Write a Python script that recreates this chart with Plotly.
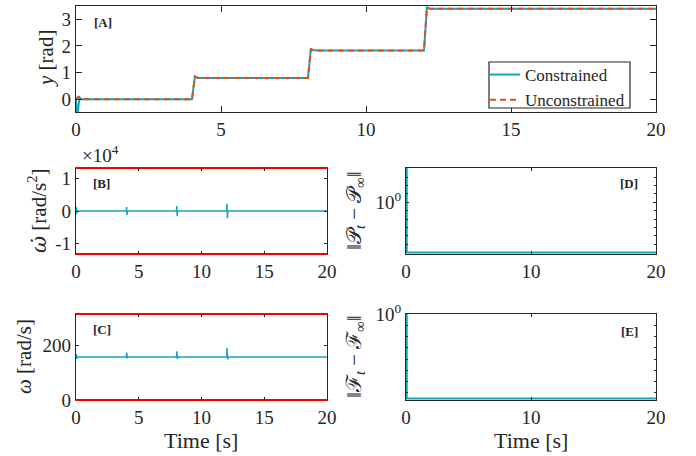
import plotly.graph_objects as go

# ---------------- data ----------------
# Panel A: output angle y [rad]
t_con = [0, 0.04, 0.08, 0.12, 0.2, 4.0, 4.1, 4.15, 4.25, 8.0, 8.1, 8.15, 8.25, 12.0, 12.1, 12.15, 12.25, 20]
y_con = [0, -0.7, -0.3, 0.05, 0.0, 0.0, 0.86, 0.82, 0.8, 0.8, 1.9, 1.85, 1.83, 1.83, 3.45, 3.42, 3.4, 3.4]
t_unc = [0, 0.08, 0.2, 4.0, 4.1, 4.2, 8.0, 8.1, 8.2, 12.0, 12.1, 12.2, 20]
y_unc = [0, 0.1, 0.0, 0.0, 0.84, 0.8, 0.8, 1.88, 1.83, 1.83, 3.44, 3.4, 3.4]

# Panel B: angular acceleration [rad/s^2]
t_wd = [0, 0.02, 0.04, 0.06, 0.1, 4.0, 4.03, 4.06, 4.1, 8.0, 8.03, 8.06, 8.1, 12.0, 12.03, 12.06, 12.1, 20]
wd = [0, 1200, -1000, 300, 0, 0, 1200, -1200, 0, 0, 1500, -1500, 0, 0, 2200, -2200, 0, 0]
wd_bounds = [-13200, 13200]

# Panel C: angular velocity [rad/s]
t_w = [0, 0.03, 0.06, 0.1, 4.0, 4.04, 4.08, 4.12, 8.0, 8.04, 8.08, 8.12, 12.0, 12.04, 12.08, 12.12, 20]
w = [157, 168, 150, 157, 157, 173, 152, 157, 157, 178, 150, 157, 157, 190, 148, 157, 157]
w_bounds = [0, 314]

# Panel D: ||P_t - P_inf||
t_P = [0, 0.06, 0.06, 20]
P = [1e5, 1e5, 1e-6, 1e-6]

# Panel E: ||F_t - F_inf||
t_F = [0, 0.06, 0.06, 20]
F = [1.0, 1.0, 3.2e-8, 3.2e-8]

t_range = [0, 20]
ticks_A = [0, 5, 10, 15, 20]
ticks_y_A = [0, 1, 2, 3]
ticks_DE = [0, 10, 20]

# ---------------- style ----------------
CYAN = "#1ba3bb"
ORANGE = "#d95319"
DARK = "#262626"
FONT = "Times New Roman, Liberation Serif, serif"
W, H = 696, 456


def px_x(a, b):
    return [a / W, b / W]


def px_y(top, bot):
    return [1 - bot / H, 1 - top / H]


def ax(domain, anchor, ticklen=4, linecolor=DARK, linewidth=1.3, **kw):
    d = dict(domain=domain, anchor=anchor, showline=True, linecolor=linecolor,
             linewidth=linewidth, mirror="allticks", ticks="inside", ticklen=ticklen,
             tickcolor=DARK, tickwidth=1, showgrid=False, zeroline=False, automargin=False,
             tickfont=dict(family=FONT, size=19, color=DARK))
    d.update(kw)
    return d


fig = go.Figure()

# A
fig.add_trace(go.Scatter(x=t_con, y=y_con, mode="lines", name="Constrained",
                         line=dict(color=CYAN, width=2), xaxis="x", yaxis="y"))
fig.add_trace(go.Scatter(x=t_unc, y=y_unc, mode="lines", name="Unconstrained",
                         line=dict(color=ORANGE, width=2, dash="6px,4px"), xaxis="x", yaxis="y"))
# B
fig.add_trace(go.Scatter(x=t_wd, y=wd, mode="lines", line=dict(color=CYAN, width=1.5),
                         showlegend=False, xaxis="x2", yaxis="y2"))
for b in wd_bounds:
    fig.add_trace(go.Scatter(x=t_range, y=[b, b], mode="lines", line=dict(color="red", width=1.8),
                             showlegend=False, xaxis="x2", yaxis="y2", cliponaxis=False))
# C
fig.add_trace(go.Scatter(x=t_w, y=w, mode="lines", line=dict(color=CYAN, width=1.5),
                         showlegend=False, xaxis="x3", yaxis="y3"))
for b in w_bounds:
    fig.add_trace(go.Scatter(x=t_range, y=[b, b], mode="lines", line=dict(color="red", width=1.8),
                             showlegend=False, xaxis="x3", yaxis="y3", cliponaxis=False))
# D
fig.add_trace(go.Scatter(x=t_P, y=P, mode="lines", line=dict(color=CYAN, width=2),
                         showlegend=False, xaxis="x4", yaxis="y4"))
# E
fig.add_trace(go.Scatter(x=t_F, y=F, mode="lines", line=dict(color=CYAN, width=2),
                         showlegend=False, xaxis="x5", yaxis="y5"))

xA, yA = px_x(76, 656), px_y(6, 112)
xL = px_x(76, 327)
xR = px_x(406, 656)
yTop = px_y(168, 254)
yBot = px_y(314, 400)

fig.update_layout(
    width=W, height=H, margin=dict(l=0, r=0, t=0, b=0, autoexpand=False),
    paper_bgcolor="white", plot_bgcolor="white",
    font=dict(family=FONT, size=18, color=DARK),
    xaxis=ax(xA, "y", ticklen=6, range=t_range, tickvals=ticks_A),
    yaxis=ax(yA, "x", ticklen=6, range=[-0.48, 3.5], tickvals=ticks_y_A),
    xaxis2=ax(xL, "y2", ticklen=3, range=t_range, tickvals=ticks_A, linecolor="red", linewidth=1),
    yaxis2=ax(yTop, "x2", ticklen=3, range=wd_bounds, tickvals=[-10000, 0, 10000],
              ticktext=["-1", "0", "1"]),
    xaxis3=ax(xL, "y3", ticklen=3, range=t_range, tickvals=ticks_A, linecolor="red", linewidth=1),
    yaxis3=ax(yBot, "x3", ticklen=3, range=w_bounds, tickvals=[0, 200]),
    xaxis4=ax(xR, "y4", ticklen=3, range=t_range, tickvals=ticks_DE),
    yaxis4=ax(yTop, "x4", ticklen=3, type="log", range=[-6.18, 4.1], tickvals=[1],
              ticktext=["10<sup>0</sup>"],
              minor=dict(ticks="inside", ticklen=2, tickcolor=DARK,
                         tickvals=[1e-5, 1e-4, 1e-3, 1e-2, 1e-1, 1e1, 1e2, 1e3, 1e4])),
    xaxis5=ax(xR, "y5", ticklen=3, range=t_range, tickvals=ticks_DE),
    yaxis5=ax(yBot, "x5", ticklen=3, type="log", range=[-7.63, 0.0001], tickvals=[1],
              ticktext=["10<sup>0</sup>"],
              minor=dict(ticks="inside", ticklen=2, tickcolor=DARK,
                         tickvals=[1e-7, 1e-6, 1e-5, 1e-4, 1e-3, 1e-2, 1e-1])),
    legend=dict(x=485 / W, y=1 - 57 / H, xanchor="left", yanchor="top",
                bgcolor="rgba(0,0,0,0)", borderwidth=0,
                font=dict(family=FONT, size=17, color=DARK), tracegroupgap=0,
                itemwidth=30),
    showlegend=True,
    # legend frame
    shapes=[dict(type="rect", xref="paper", yref="paper",
                 x0=489 / W, x1=630 / W, y0=1 - 108 / H, y1=1 - 62 / H,
                 line=dict(color=DARK, width=1.2), fillcolor="white", layer="above")],
)

ann = []


def add_text(x, y, text, size=21, angle=0, **kw):
    d = dict(x=x / W, y=1 - y / H, xref="paper", yref="paper", text=text, showarrow=False,
             xanchor="center", yanchor="middle",
             font=dict(family=FONT, size=size, color=DARK), textangle=angle)
    d.update(kw)
    ann.append(d)


# panel labels
add_text(103, 23, "<b>[A]</b>", size=13)
add_text(102, 184, "<b>[B]</b>", size=13)
add_text(102, 329, "<b>[C]</b>", size=13)
add_text(629, 184, "<b>[D]</b>", size=13)
add_text(629, 331, "<b>[E]</b>", size=13)
# y titles
add_text(46, 59, "<i>y</i> [rad]", angle=-90)
add_text(37, 211, "<span style=\"font-family:DejaVu Serif\"><i>ω̇</i></span> [rad/s<sup>2</sup>]",
         angle=-90)
add_text(24, 357, "<i>ω</i> [rad/s]", angle=-90)
add_text(355, 211, "‖𝒫<sub><i>t</i></sub> − 𝒫<sub>∞</sub>‖", angle=-90)
add_text(355, 357, "‖ℱ<sub><i>t</i></sub> − ℱ<sub>∞</sub>‖", angle=-90)
# x titles
add_text(201, 440, "Time [s]", size=22)
add_text(531, 440, "Time [s]", size=22)
# exponent
add_text(100, 154, "×10<sup>4</sup>", size=19)

fig.update_layout(annotations=ann)
fig.write_html("out.html", config={"displayModeBar": False},
               post_script="document.body.style.margin='0';document.body.style.overflow='hidden';")
